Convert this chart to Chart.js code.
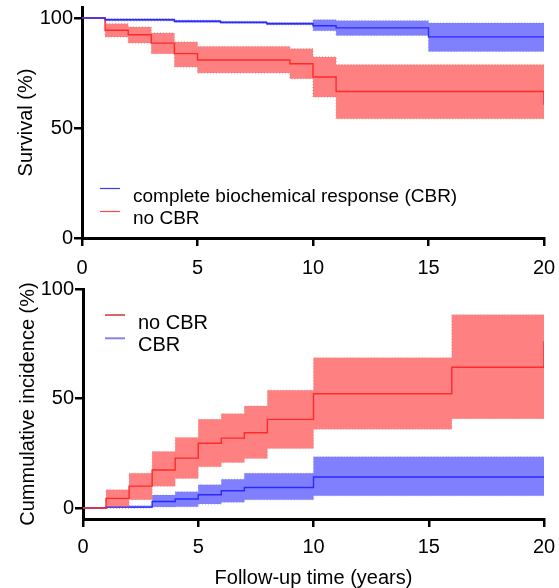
<!DOCTYPE html>
<html><head><meta charset="utf-8">
<script src="https://cdn.jsdelivr.net/npm/chart.js@4"></script>
<style>
html,body{margin:0;padding:0;background:#fff;width:559px;height:588px;overflow:hidden;}
#top{position:absolute;left:0;top:0;width:559px;height:290px;}
#bot{position:absolute;left:0;top:280px;width:559px;height:308px;}
</style></head><body>
<div id="top"><canvas id="c1"></canvas></div>
<div id="bot"><canvas id="c2"></canvas></div>
<script>
// ---------- data ----------
const xTicks = [0, 5, 10, 15, 20];
const yTicks = [0, 50, 100];

// Survival (top panel)
const survTimeCBR  = [0, 1, 4, 6, 8, 10, 11, 15, 20];
const survCBR      = [100, 99.2, 98.5, 98.0, 97.4, 96.5, 95.5, 91.4, 91.4];
const survCBRUpper = [100, 99.7, 99.0, 98.5, 97.9, 99.2, 98.8, 97.7, 97.7];
const survCBRLower = [100, 98.7, 98.0, 97.5, 96.9, 94.2, 92.1, 84.8, 84.8];

const survTimeNo   = [0, 1, 2, 3, 4, 5, 9, 10, 11, 20];
const survNo       = [100, 94.4, 92.4, 88.6, 83.8, 80.9, 79.2, 73.2, 66.6, 60.6];
const survNoUpper  = [100, 97.4, 95.9, 93.2, 89.1, 87.1, 86.0, 82.3, 78.8, 78.8];
const survNoLower  = [100, 91.4, 88.6, 83.8, 77.7, 75.0, 72.4, 64.1, 54.2, 54.2];

// Cumulative incidence (bottom panel)
const ciTimeNo     = [0, 1, 2, 3, 4, 5, 6, 7, 8, 10, 16, 20];
const ciNo         = [0, 4.4, 10.0, 17.4, 22.8, 29.6, 31.9, 34.4, 40.5, 52.2, 64.3, 76.2];
const ciNoUpper    = [0, 8.3, 15.9, 25.8, 32.2, 40.5, 43.1, 46.6, 53.8, 68.6, 88.3, 88.3];
const ciNoLower    = [0, 0, 3.8, 9.9, 13.5, 18.8, 20.8, 22.6, 27.2, 36.0, 40.8, 40.8];

const ciTimeCBR    = [0, 1, 3, 4, 5, 6, 7, 10, 20];
const ciCBR        = [0, 0.4, 3.0, 4.1, 6.1, 7.9, 9.4, 14.2, 14.2];
const ciCBRUpper   = [0, 1.0, 5.9, 7.4, 10.6, 13.2, 15.9, 23.4, 23.4];
const ciCBRLower   = [0, 0, 0.5, 0.6, 1.8, 2.6, 3.8, 5.6, 5.6];

const legendTop    = ['complete biochemical response (CBR)', 'no CBR'];
const legendBottom = ['no CBR', 'CBR'];

// ---------- style ----------
const FONT = "'Liberation Sans', Arial, sans-serif";
const RED = '#ff2a2a', BLUE = '#2a2aff';
const RED_BAND = '#ff8080', BLUE_BAND = '#8080ff';

const pts = (t, v) => t.map((x, i) => ({x, y: v[i]}));

function lineDS(label, t, v, color) {
  return {label, data: pts(t, v), borderColor: color, borderWidth: 1.4, pointRadius: 0,
          stepped: true, fill: false, order: 0};
}
function bandDS(t, v, edge, fillTarget, bg) {
  return {label: '', data: pts(t, v), borderColor: edge, borderWidth: 1, borderDash: [1, 2],
          pointRadius: 0, stepped: true, fill: fillTarget, backgroundColor: bg, order: 1};
}

const legendPlugin = {
  id: 'kmLegend',
  afterDraw(chart, args, o) {
    const ctx = chart.ctx;
    ctx.save();
    o.items.forEach(it => {
      ctx.strokeStyle = it.color; ctx.lineWidth = it.lw;
      ctx.beginPath(); ctx.moveTo(o.x0, it.y); ctx.lineTo(o.x1, it.y); ctx.stroke();
      ctx.fillStyle = '#000'; ctx.font = o.size + 'px ' + FONT;
      ctx.textBaseline = 'alphabetic'; ctx.textAlign = 'left';
      ctx.fillText(it.text, o.tx, it.base);
    });
    ctx.restore();
  }
};

function xScale(height, pad, title) {
  return {
    type: 'linear', min: 0, max: 20,
    afterBuildTicks: s => { s.ticks = xTicks.map(v => ({value: v})); },
    afterFit: s => { s.height = height; s.paddingLeft = 0; s.paddingRight = 0; },
    grid: {drawOnChartArea: false, drawTicks: true, tickLength: 8, color: '#000', lineWidth: 2.5},
    border: {display: true, color: '#000', width: 3},
    ticks: {color: '#000', font: {family: FONT, size: 20}, padding: pad, maxRotation: 0, autoSkip: false},
    title: title ? {display: true, text: title, color: '#000', font: {family: FONT, size: 20, lineHeight: 1.0}, padding: 0}
                 : {display: false}
  };
}
function yScale(min, max, width, title, tpad) {
  return {
    type: 'linear', min, max,
    afterBuildTicks: s => { s.ticks = yTicks.map(v => ({value: v})); },
    afterFit: s => { s.width = width; s.paddingTop = 0; s.paddingBottom = 0; },
    grid: {drawOnChartArea: false, drawTicks: true, tickLength: 8, color: '#000', lineWidth: 2.5},
    border: {display: true, color: '#000', width: 3},
    ticks: {color: '#000', font: {family: FONT, size: 20}, padding: 1},
    title: {display: true, text: title, color: '#000', font: {family: FONT, size: 20, lineHeight: 1.2}, padding: tpad}
  };
}

const common = {
  responsive: true, maintainAspectRatio: false, animation: false,
  plugins: {legend: {display: false}, tooltip: {enabled: false}},
  elements: {line: {tension: 0}}
};

new Chart(document.getElementById('c1'), {
  type: 'line',
  data: {datasets: [
    lineDS(legendTop[0], survTimeCBR, survCBR, BLUE),
    lineDS(legendTop[1], survTimeNo, survNo, RED),
    bandDS(survTimeNo, survNoUpper, 'rgba(210,120,120,0.8)', false, RED_BAND),
    bandDS(survTimeNo, survNoLower, 'rgba(210,120,120,0.8)', 2, RED_BAND),
    bandDS(survTimeCBR, survCBRUpper, 'rgba(120,120,220,0.8)', false, BLUE_BAND),
    bandDS(survTimeCBR, survCBRLower, 'rgba(120,120,220,0.8)', 4, BLUE_BAND)
  ]},
  options: Object.assign({}, common, {
    layout: {padding: {top: 7, right: 15, left: 0, bottom: 0}},
    scales: {x: xScale(52, 10, null), y: yScale(0, 105, 82, 'Survival (%)', 14)},
    plugins: Object.assign({}, common.plugins, {
      kmLegend: {x0: 100, x1: 120, tx: 133, size: 19, items: [
        {text: legendTop[0], color: '#3a3aff', lw: 1.2, y: 188.5, base: 201.5},
        {text: legendTop[1], color: '#ff4a4a', lw: 1.2, y: 211.5, base: 223.5}
      ]}
    })
  }),
  plugins: [legendPlugin]
});

new Chart(document.getElementById('c2'), {
  type: 'line',
  data: {datasets: [
    lineDS(legendBottom[0], ciTimeNo, ciNo, RED),
    lineDS(legendBottom[1], ciTimeCBR, ciCBR, BLUE),
    bandDS(ciTimeNo, ciNoUpper, 'rgba(210,120,120,0.6)', false, RED_BAND),
    bandDS(ciTimeNo, ciNoLower, 'rgba(210,120,120,0.6)', 2, RED_BAND),
    bandDS(ciTimeCBR, ciCBRUpper, 'rgba(120,120,220,0.6)', false, BLUE_BAND),
    bandDS(ciTimeCBR, ciCBRLower, 'rgba(120,120,220,0.6)', 4, BLUE_BAND)
  ]},
  options: Object.assign({}, common, {
    layout: {padding: {top: 9, right: 15, left: 0, bottom: 0}},
    scales: {x: xScale(69, 8, 'Follow-up time (years)'), y: yScale(-5, 100, 83, 'Cummulative incidence (%)', 16)},
    plugins: Object.assign({}, common.plugins, {
      kmLegend: {x0: 105, x1: 125, tx: 138, size: 20, items: [
        {text: legendBottom[0], color: '#e06464', lw: 2, y: 35, base: 48.5},
        {text: legendBottom[1], color: '#8484e4', lw: 2, y: 58.3, base: 70.5}
      ]}
    })
  }),
  plugins: [legendPlugin]
});
</script>
</body></html>
